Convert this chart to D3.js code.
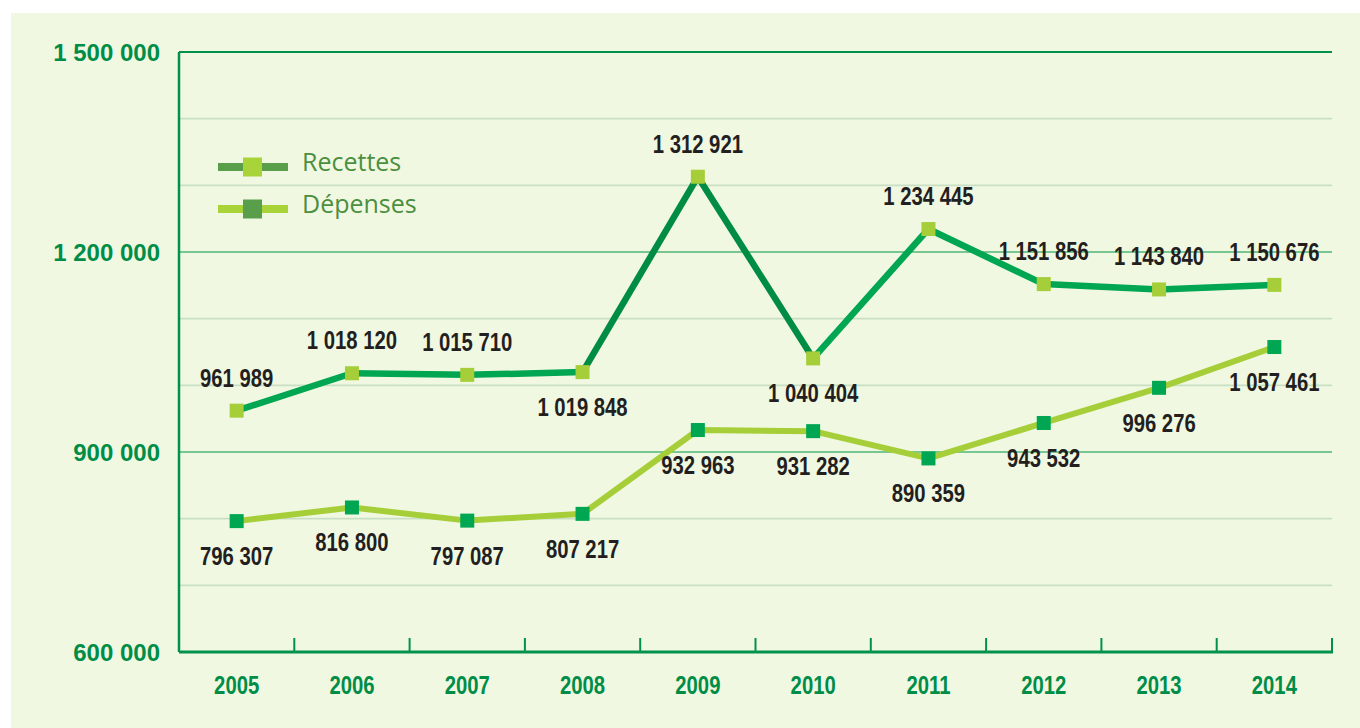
<!DOCTYPE html>
<html>
<head>
<meta charset="utf-8">
<script src="https://cdn.jsdelivr.net/npm/d3@7"></script>
<style>
  body { margin: 0; background: #ffffff; }
  svg { display: block; }
</style>
</head>
<body>
<div id="chart"></div>
<script>
// data
const years = ["2005", "2006", "2007", "2008", "2009", "2010", "2011", "2012", "2013", "2014"];
const recettes = [961989, 1018120, 1015710, 1019848, 1312921, 1040404, 1234445, 1151856, 1143840, 1150676];
const depenses = [796307, 816800, 797087, 807217, 932963, 931282, 890359, 943532, 996276, 1057461];
const recettesLabelSide = ["above", "above", "above", "below", "above", "below", "above", "above", "above", "above"];
const yTickLabels = [600000, 900000, 1200000, 1500000];
const seriesNames = ["Recettes", "Dépenses"];

const W = 1360, H = 728;
const margin = {top: 52, right: 28, bottom: 76, left: 179};

const fr = d3.formatLocale({decimal: ",", thousands: " ", grouping: [3], currency: ["", " €"]});
const fmt = fr.format(",d");

const condFont = "'Liberation Sans', Arial, sans-serif";
const squeeze = 0.78; // fake a condensed bold face

const svg = d3.select("#chart").append("svg")
    .attr("width", W)
    .attr("height", H);

// panel background
svg.append("rect")
    .attr("x", 11).attr("y", 13)
    .attr("width", W - 11).attr("height", H - 13)
    .attr("fill", "#f1f8e2");

const x = d3.scaleBand()
    .domain(years)
    .range([margin.left, W - margin.right]);
const y = d3.scaleLinear()
    .domain([600000, 1500000])
    .range([H - margin.bottom, margin.top]);

// gridlines every 100 000
const grid = d3.range(700000, 1500000, 100000);
svg.append("g").selectAll("line")
    .data(grid)
    .join("line")
    .attr("x1", margin.left).attr("x2", W - margin.right)
    .attr("y1", d => y(d)).attr("y2", d => y(d))
    .attr("stroke", d => yTickLabels.includes(d) ? "#4fb677" : "#c8dfc4")
    .attr("stroke-width", d => yTickLabels.includes(d) ? 1.6 : 1.8);

// top line
svg.append("line")
    .attr("x1", margin.left).attr("x2", W - margin.right)
    .attr("y1", y(1500000)).attr("y2", y(1500000))
    .attr("stroke", "#00924a").attr("stroke-width", 2);

// left axis line
svg.append("line")
    .attr("x1", margin.left).attr("x2", margin.left)
    .attr("y1", y(1500000)).attr("y2", y(600000))
    .attr("stroke", "#00924a").attr("stroke-width", 2.5);

// bottom axis with ticks between years
const xAxis = d3.axisBottom(x).tickSize(0).tickPadding(24);
const gx = svg.append("g")
    .attr("transform", `translate(0,${y(600000)})`)
    .call(xAxis);
gx.select(".domain").remove();
gx.selectAll("text")
    .attr("font-family", condFont)
    .attr("font-weight", "bold")
    .attr("font-size", 26)
    .attr("transform", `scale(${squeeze},1)`)
    .attr("fill", "#008d47");
svg.append("line")
    .attr("x1", margin.left).attr("x2", W - margin.right + 1)
    .attr("y1", y(600000)).attr("y2", y(600000))
    .attr("stroke", "#00924a").attr("stroke-width", 3);
svg.append("g").selectAll("line")
    .data(years.slice(1).concat(["end"]))
    .join("line")
    .attr("x1", d => d === "end" ? W - margin.right : x(d))
    .attr("x2", d => d === "end" ? W - margin.right : x(d))
    .attr("y1", y(600000)).attr("y2", y(600000) - 14)
    .attr("stroke", "#00924a").attr("stroke-width", 2);

// y labels
svg.append("g").selectAll("text")
    .data(yTickLabels)
    .join("text")
    .attr("x", 160)
    .attr("y", d => y(d) + 9)
    .attr("text-anchor", "end")
    .attr("font-family", "'Liberation Sans', Arial, sans-serif")
    .attr("font-weight", "bold")
    .attr("font-size", 24)
    .attr("fill", "#008d47")
    .text(d => fmt(d));

const line = d3.line()
    .x((d, i) => x(years[i]) + x.bandwidth() / 2)
    .y(d => y(d));

// Dépenses line
svg.append("path")
    .datum(depenses)
    .attr("fill", "none")
    .attr("stroke", "#a6ce39")
    .attr("stroke-width", 6)
    .attr("stroke-linejoin", "round")
    .attr("d", line);

// Recettes line, drawn segment by segment (the 2009 peak is darker)
const recSegments = d3.pairs(recettes.map((v, i) => ({v: v, i: i})));
svg.append("g").selectAll("line")
    .data(recSegments)
    .join("line")
    .attr("x1", d => x(years[d[0].i]) + x.bandwidth() / 2)
    .attr("y1", d => y(d[0].v))
    .attr("x2", d => x(years[d[1].i]) + x.bandwidth() / 2)
    .attr("y2", d => y(d[1].v))
    .attr("stroke", d => (years[d[0].i] === "2009" || years[d[1].i] === "2009") ? "#008c43" : "#00a651")
    .attr("stroke-width", 6.5)
    .attr("stroke-linecap", "round");

// markers
const mk = 14;
svg.append("g").selectAll("rect")
    .data(depenses)
    .join("rect")
    .attr("x", (d, i) => x(years[i]) + x.bandwidth() / 2 - mk / 2)
    .attr("y", d => y(d) - mk / 2)
    .attr("width", mk).attr("height", mk)
    .attr("fill", "#00a651");
svg.append("g").selectAll("rect")
    .data(recettes)
    .join("rect")
    .attr("x", (d, i) => x(years[i]) + x.bandwidth() / 2 - mk / 2)
    .attr("y", d => y(d) - mk / 2)
    .attr("width", mk).attr("height", mk)
    .attr("fill", "#a6ce39");

// value labels
function addLabels(values, sides) {
    svg.append("g").selectAll("text")
        .data(values)
        .join("text")
        .attr("transform", (d, i) => {
            const lx = x(years[i]) + x.bandwidth() / 2;
            const ly = y(d) + (sides[i] === "above" ? -24 : 44);
            return `translate(${lx},${ly}) scale(${squeeze},1)`;
        })
        .attr("text-anchor", "middle")
        .attr("font-family", condFont)
        .attr("font-weight", "bold")
        .attr("font-size", 26)
        .attr("fill", "#231f20")
        .text(d => fmt(d));
}
addLabels(recettes, recettesLabelSide);
addLabels(depenses, depenses.map(() => "below"));

// legend
const legend = svg.append("g").attr("transform", "translate(218,167)");
const legendLine = ["#589e4b", "#a8d439"];
const legendMark = ["#a8d439", "#589e4b"];
seriesNames.forEach((name, i) => {
    const g = legend.append("g").attr("transform", `translate(0,${i * 42})`);
    g.append("line")
        .attr("x1", 0).attr("x2", 70)
        .attr("y1", 0).attr("y2", 0)
        .attr("stroke", legendLine[i])
        .attr("stroke-width", 8);
    g.append("rect")
        .attr("x", 25).attr("y", -9.5)
        .attr("width", 19).attr("height", 19)
        .attr("fill", legendMark[i]);
    g.append("text")
        .attr("x", 84).attr("y", 4)
        .attr("font-family", "'Open Sans', sans-serif")
        .attr("font-size", 25)
        .attr("fill", "#4c8f3e")
        .text(name);
});
</script>
</body>
</html>
